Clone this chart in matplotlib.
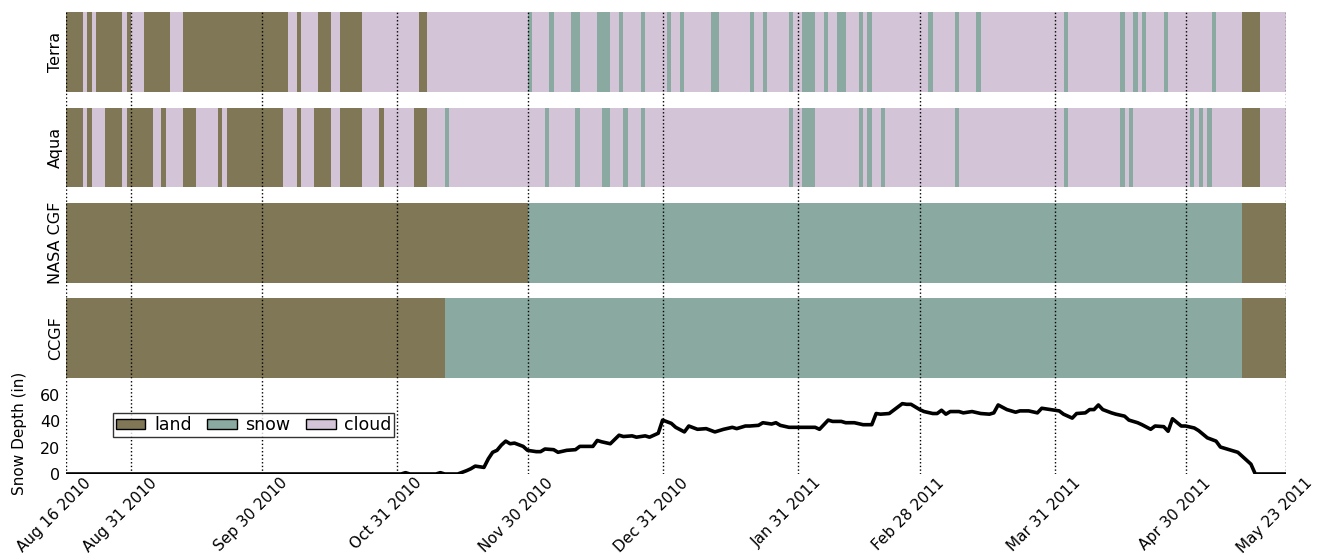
import datetime as dt
import matplotlib
matplotlib.use("Agg")
import matplotlib.pyplot as plt
import matplotlib.dates as mdates
import matplotlib.transforms as mtransforms
from matplotlib.patches import Patch

start = dt.datetime(2010, 8, 16)
n_days = 280

rows = ["Terra", "Aqua", "NASA CGF", "CCGF"]
classes = ["land", "snow", "cloud"]
class_colors = ["#7f7756", "#89a9a1", "#d3c4d7"]

# runs of days (first, last), counted from Aug 16 2010; any day not listed is cloud
terra_land = [(0, 3), (5, 5), (7, 12), (14, 14), (18, 23), (27, 50), (53, 53),
              (58, 60), (63, 67), (81, 82), (270, 273)]
terra_snow = [(106, 106), (111, 111), (116, 117), (122, 124), (127, 127), (132, 132),
              (138, 138), (141, 141), (148, 149), (157, 157), (160, 160), (166, 166),
              (169, 171), (174, 174), (177, 178), (182, 182), (184, 184), (198, 198),
              (204, 204), (209, 209), (229, 229), (242, 242), (245, 245), (247, 247),
              (252, 252), (263, 263)]
aqua_land = [(0, 3), (5, 5), (9, 12), (14, 19), (22, 22), (27, 29), (35, 35),
             (37, 49), (53, 53), (57, 60), (63, 67), (72, 72), (80, 82), (270, 273)]
aqua_snow = [(87, 87), (110, 110), (117, 117), (123, 124), (128, 128), (132, 132),
             (166, 166), (169, 171), (182, 182), (184, 184), (187, 187), (204, 204),
             (229, 229), (242, 242), (244, 244), (258, 258), (260, 260), (262, 262)]
nasa_land = [(0, 105), (270, 279)]
nasa_snow = [(106, 269)]
ccgf_land = [(0, 86), (270, 279)]
ccgf_snow = [(87, 269)]

# snow depth (inches), day offsets from Aug 16 2010
depth_days = [0, 77, 78, 79, 85, 86, 87, 90, 92, 93, 94, 96, 97, 98, 99, 100, 101, 102,
              103, 105, 106, 108, 109, 110, 112, 113, 115, 117, 118, 120, 121, 122, 123,
              125, 127, 128, 130, 131, 133, 134, 136, 137, 139, 140, 142, 143, 145, 147,
              149, 151, 153, 154, 156, 157, 159, 160, 162, 163, 164, 166, 168, 170, 172,
              173, 175, 176, 178, 179, 181, 183, 185, 186, 187, 189, 190, 192, 193, 194,
              196, 197, 199, 200, 201, 202, 203, 205, 206, 208, 210, 212, 213, 214, 216,
              218, 219, 221, 223, 224, 226, 228, 229, 231, 232, 234, 235, 236, 237, 238,
              240, 241, 243, 244, 246, 247, 249, 250, 252, 253, 254, 256, 257, 259, 260,
              262, 264, 265, 267, 269, 270, 272, 273, 280]
depth_in = [0, 0, 1, 0, 0, 1, 0, 0, 2.5, 4, 6, 5, 11.5, 16.5, 18, 22, 25, 23,
            23.5, 21, 18, 17, 17, 19, 18.5, 16.5, 18, 18.5, 21, 21, 21, 25.5, 24.5,
            23, 29.5, 28.5, 29, 28, 29, 28, 31, 41, 38.5, 35.5, 32, 36.5, 34, 34.5,
            32, 34, 35.5, 34.5, 36.5, 36.5, 37, 39, 38, 39, 37, 35.5, 35.5, 35.5, 35.5,
            34, 41, 40, 40, 39, 39, 37.5, 37.5, 46, 45.5, 46, 48.5, 53.5, 53, 53,
            49, 47.5, 46, 46, 48.5, 45.5, 47.5, 47.5, 46.5, 47.5, 46, 45.5, 46.5, 52.5, 49,
            47, 48, 48, 46.5, 50, 49, 48, 45.5, 42.5, 46, 46.5, 49, 49, 52.5, 49,
            46.5, 45.5, 44, 41, 39, 37.5, 34, 36.5, 36, 32.5, 42, 36.5, 36.5, 35, 33,
            27.5, 25, 20.5, 18.5, 16.5, 13.5, 7.5, 0, 0]

tick_dates = [dt.datetime(2010, 8, 16), dt.datetime(2010, 8, 31), dt.datetime(2010, 9, 30),
              dt.datetime(2010, 10, 31), dt.datetime(2010, 11, 30), dt.datetime(2010, 12, 31),
              dt.datetime(2011, 1, 31), dt.datetime(2011, 2, 28), dt.datetime(2011, 3, 31),
              dt.datetime(2011, 4, 30), dt.datetime(2011, 5, 23)]

x0 = mdates.date2num(start)
fig = plt.figure(figsize=(13.17, 5.56), dpi=100)
ax1 = fig.add_axes([0.0498, 0.3201, 0.9265, 0.6583])
ax2 = fig.add_axes([0.0498, 0.1475, 0.9265, 0.1726], sharex=ax1)

band_h = 0.833
row_land = [terra_land, aqua_land, nasa_land, ccgf_land]
row_snow = [terra_snow, aqua_snow, nasa_snow, ccgf_snow]
for i, name in enumerate(rows):
    y = 3 - i
    ax1.broken_barh([(x0, n_days)], (y, band_h), facecolors=class_colors[2], lw=0)
    ax1.broken_barh([(x0 + a, b - a + 1) for a, b in row_land[i]], (y, band_h),
                    facecolors=class_colors[0], lw=0)
    ax1.broken_barh([(x0 + a, b - a + 1) for a, b in row_snow[i]], (y, band_h),
                    facecolors=class_colors[1], lw=0)

ax1.set_ylim(0, 3 + band_h)
ax1.set_yticks([3 - i + band_h / 2 for i in range(4)])
ax1.set_yticklabels(rows, rotation=90, va="center", fontsize=11.5)
ax1.tick_params(axis="both", length=0, pad=2)
ax1.tick_params(axis="x", labelbottom=False)
for s in ax1.spines.values():
    s.set_visible(False)

ax2.plot([x0 + d for d in depth_days], depth_in, color="black", lw=2.6)
ax2.set_ylim(0, 73)
ax2.set_yticks([0, 20, 40, 60])
ax2.set_ylabel("Snow Depth (in)", fontsize=11, labelpad=5)
ax2.yaxis.set_label_coords(-0.032, 0.42)
ax2.tick_params(axis="y", length=0, labelsize=11.5, pad=4)
ax2.tick_params(axis="x", length=0, labelsize=11, pad=1)
for s in ax2.spines.values():
    s.set_visible(False)

ax2.set_xlim(x0, x0 + n_days)
ax2.set_xticks(mdates.date2num(tick_dates))
ax2.set_xticklabels([d.strftime("%b %d %Y") for d in tick_dates])
offset = mtransforms.ScaledTranslation(-11 / 100, 0, fig.dpi_scale_trans)
for lab in ax2.get_xticklabels():
    lab.set_rotation(45)
    lab.set_ha("center")
    lab.set_transform(lab.get_transform() + offset)

for ax in (ax1, ax2):
    ax.xaxis.grid(True, color="black", linestyle=":", lw=1)
    ax.set_axisbelow(False)

handles = [Patch(facecolor=c, edgecolor="black", lw=1) for c in class_colors]
leg = ax2.legend(handles, classes, ncol=3, loc="center left", bbox_to_anchor=(0.039, 0.51),
                 fontsize=12.5, fancybox=False, edgecolor="black", borderaxespad=0,
                 handlelength=1.7, handleheight=0.55, handletextpad=0.5, columnspacing=0.9,
                 borderpad=0.15)
leg.get_frame().set_linewidth(1)

fig.savefig("out.png", dpi=100)
